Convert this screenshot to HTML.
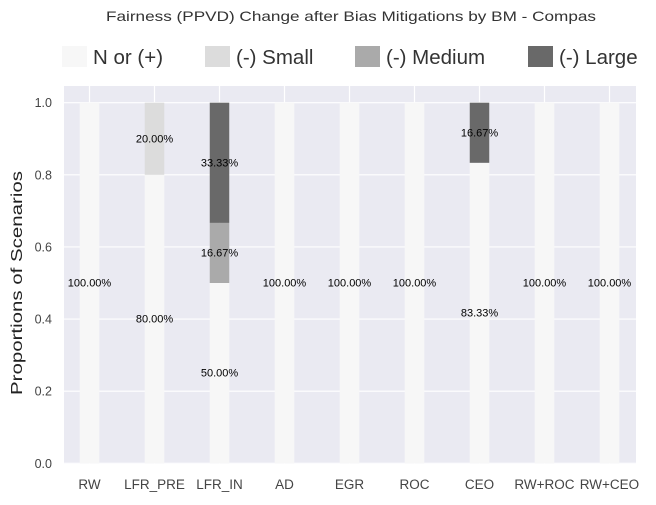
<!DOCTYPE html>
<html><head><meta charset="utf-8"><style>
body{margin:0;background:#fff;font-family:"Liberation Sans",Arial,sans-serif}
</style></head><body>
<svg id="chart" width="656" height="500" xmlns="http://www.w3.org/2000/svg" font-family="Liberation Sans, Arial, sans-serif">
<text x="351" y="21" font-size="14" fill="#333" text-anchor="middle" textLength="490" lengthAdjust="spacingAndGlyphs">Fairness (PPVD) Change after Bias Mitigations by BM - Compas</text>
<g id="legend"></g>
<rect x="64" y="86" width="572" height="378" fill="#eaeaf2"/>
<g id="grid"></g><g id="bars"></g><g id="labels"></g><g id="axes"></g>
<text transform="translate(22,283) rotate(-90)" font-size="16" fill="#222" text-anchor="middle" textLength="224" lengthAdjust="spacingAndGlyphs">Proportions of Scenarios</text>
</svg>
<script>
const categories=["RW","LFR_PRE","LFR_IN","AD","EGR","ROC","CEO","RW+ROC","RW+CEO"];
const seriesNames=["N or (+)","(-) Small","(-) Medium","(-) Large"];
const nPos=[1,0.8,0.5,1,1,1,0.8333,1,1];
const small=[0,0.2,0,0,0,0,0,0,0];
const medium=[0,0,0.1667,0,0,0,0,0,0];
const large=[0,0,0.3333,0,0,0,0.1667,0,0];
const yTicks=[0,0.2,0.4,0.6,0.8,1.0];
const colors=["#f7f7f7","#dcdcdc","#aaaaaa","#696969"];
const NS="http://www.w3.org/2000/svg";
const y=v=>463.3-v*360.6;
const x=i=>89.5+i*65;
function mk(t,a,p){const e=document.createElementNS(NS,t);for(const k in a)e.setAttribute(k,a[k]);document.getElementById(p).appendChild(e);return e;}
yTicks.forEach(t=>{
 const l=mk('line',{x1:64,x2:636,y1:y(t),y2:y(t),stroke:'#fff','stroke-width':1.2},'grid');
 
 
 const tx=mk('text',{x:52,y:y(t)+4.5,'font-size':12.5,fill:'#444','text-anchor':'end'},'axes');
 tx.textContent=t.toFixed(1);
 
 
});
categories.forEach((c,i)=>{
 const l=mk('line',{x1:x(i),x2:x(i),y1:86,y2:464,stroke:'#fff','stroke-width':1.2},'grid');
 
 
 const tx=mk('text',{x:x(i),y:489,'font-size':13.5,fill:'#444','text-anchor':'middle'},'axes');
 tx.textContent=c;
 
 
});
const series=[nPos,small,medium,large];
categories.forEach((c,i)=>{
 let base=0;
 series.forEach((s,k)=>{
  const v=s[i]; if(v<=0)return;
  const r=mk('rect',{x:x(i)-9.75,width:19.5,y:y(base+v),height:y(base)-y(base+v),fill:colors[k]},'bars');
  
  
  const tx=mk('text',{x:x(i),y:y(base+v/2)+3.5,'font-size':11,fill:'#000','text-anchor':'middle'},'labels');
  tx.textContent=(v*100).toFixed(2)+'%';
  
  
  base+=v;
 });
});
const legX=[62,205,355,528];
seriesNames.forEach((n,k)=>{
 const r=mk('rect',{x:legX[k],y:46,width:25,height:21,fill:colors[k]},'legend');
 
 
 const tx=mk('text',{x:legX[k]+31,y:64,'font-size':20.5,fill:'#333'},'legend');
 tx.textContent=n;
 
 
});
</script>
</body></html>
